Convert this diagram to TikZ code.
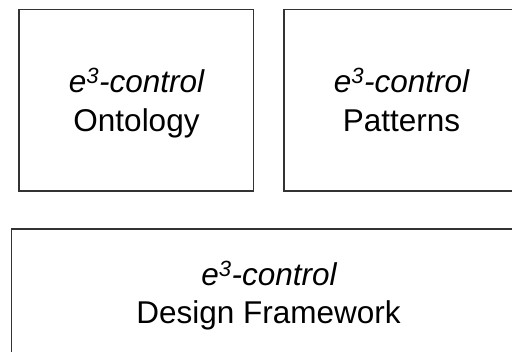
\documentclass[tikz,border=0pt]{standalone}
\usepackage{fontspec}
\setmainfont{Liberation Sans}
\begin{document}
\begin{tikzpicture}[x=1pt,y=-1pt,
  box/.style={draw=black!80, line width=1.2pt, rectangle, inner sep=0pt},
  lbl/.style={font=\fontsize{31.5}{38}\selectfont, inner sep=0pt, anchor=base},
  ital/.style={lbl, font=\fontsize{31.5}{38}\selectfont\itshape}]
  \useasboundingbox (0,0) rectangle (512,352);
  \clip (0,0) rectangle (512,352);
  % three module boxes
  \node[box, minimum width=234.5pt, minimum height=181.5pt] (onto) at (136.25,100.25) {};
  \node[box, minimum width=234pt, minimum height=181.5pt] (patt) at (401,100.25) {};
  \node[box, minimum width=513.6pt, minimum height=180pt] (frame) at (268.5,319) {};
  % box titles
  \node[ital] (onto1) at (136.5,92.7) {e\textsuperscript{3}-control};
  \node[lbl]  (onto2) at (136.5,131.7) {Ontology};
  \node[ital] (patt1) at (401.5,92.7) {e\textsuperscript{3}-control};
  \node[lbl]  (patt2) at (401.5,131.2) {Patterns};
  \node[ital] (frame1) at (269,285.7) {e\textsuperscript{3}-control};
  \node[lbl]  (frame2) at (268.5,323.3) {Design Framework};
\end{tikzpicture}
\end{document}
